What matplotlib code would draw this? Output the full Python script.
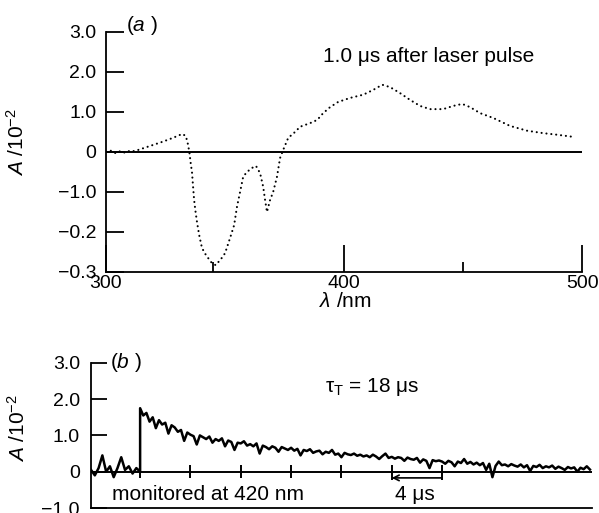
import matplotlib
matplotlib.use("Agg")
import matplotlib.pyplot as plt
import numpy as np

plt.rcParams['font.family'] = ['Liberation Sans', 'DejaVu Sans']
plt.rcParams['mathtext.fontset'] = 'custom'
plt.rcParams['mathtext.rm'] = 'Liberation Sans'
plt.rcParams['mathtext.it'] = 'Liberation Sans:italic'
plt.rcParams['mathtext.default'] = 'regular'

# ---------------- data: panel (a) transient spectrum ----------------
wavelength_nm = [300, 302, 304, 306, 308, 310, 312, 316, 320, 324, 328, 332,
                 333.5, 334.3, 335.0, 335.6, 336.1, 336.6, 337.0, 337.5, 338.2,
                 339.1, 340.3, 342.0, 344.5, 346.1, 348.6, 350.0, 352.1, 353.8,
                 355.0, 356.3, 357.6, 359.2, 361.3, 363.0, 364.7, 366.0, 366.8,
                 367.6, 368.9, 370.2, 371.8, 373.1, 374.4, 376.5, 379.4, 381.5,
                 385.7, 388.7, 391.2, 394.1, 397.5, 402.5, 408.0, 412.2, 416.0,
                 419.3, 423.5, 427.7, 431.9, 436.1, 441.6, 445.8, 449.6, 452.9,
                 457.1, 462.6, 469.7, 476.9, 483.6, 489.5, 497.1]
absorbance_a = [0.0, 0.03, -0.03, 0.02, -0.02, 0.03, 0.02, 0.10, 0.18, 0.26, 0.35, 0.45,
                0.40, 0.22, 0.0, -0.30, -0.50, -0.90, -1.20, -1.45, -1.75,
                -2.07, -2.40, -2.58, -2.78, -2.83, -2.65, -2.53, -2.15, -1.83,
                -1.37, -1.00, -0.62, -0.50, -0.40, -0.35, -0.53, -0.87, -1.20,
                -1.50, -1.20, -1.00, -0.62, -0.15, 0.05, 0.35, 0.50, 0.63,
                0.72, 0.80, 0.97, 1.12, 1.25, 1.35, 1.43, 1.55, 1.68,
                1.62, 1.47, 1.30, 1.15, 1.07, 1.07, 1.15, 1.20, 1.12,
                0.97, 0.85, 0.65, 0.53, 0.47, 0.43, 0.37]
yticks_a = [3, 2, 1, 0, -1, -2, -3]
yticklabels_a = ["3.0", "2.0", "1.0", "0", "\u22121.0", "\u22120.2", "\u22120.3"]
xticks_a = [300, 400, 500]
xminor_a = [345, 450]

# ---------------- data: panel (b) decay trace ----------------
pre_start, pre_step = -3.9, 0.3
pre_values = [0.05, -0.10, 0.10, 0.45, 0.00, 0.15, -0.15, 0.10, 0.40, 0.05,
              0.15, -0.05, 0.10, 0.00]
post_start, post_step = 0.0, 0.25
post_values = [
    1.75, 1.55, 1.62, 1.38, 1.50, 1.20, 1.42, 1.30, 1.35, 1.05, 1.28, 1.22,
    1.10, 1.15, 0.85, 1.08, 1.02, 0.98, 0.75, 1.00, 0.95, 0.90, 0.97, 0.80,
    0.90, 0.85, 0.92, 0.70, 0.86, 0.82, 0.60, 0.80, 0.78, 0.84, 0.72, 0.76,
    0.70, 0.78, 0.50, 0.72, 0.68, 0.62, 0.70, 0.66, 0.55, 0.68, 0.64, 0.60,
    0.66, 0.58, 0.63, 0.45, 0.60, 0.57, 0.62, 0.52, 0.56, 0.58, 0.48, 0.55,
    0.52, 0.60, 0.47, 0.50, 0.40, 0.52, 0.48, 0.46, 0.50, 0.44, 0.47, 0.42,
    0.45, 0.40, 0.47, 0.42, 0.35, 0.43, 0.50, 0.38, 0.41, 0.36, 0.40, 0.38,
    0.30, 0.39, 0.35, 0.33, 0.38, 0.25, 0.34, 0.30, 0.10, 0.32, 0.29, 0.31,
    0.28, 0.22, 0.30, 0.26, 0.15, 0.28, 0.24, 0.35, 0.22, 0.27, 0.20, 0.25,
    0.18, 0.24, 0.05, 0.22, -0.15, 0.16, 0.28, 0.18, 0.20, 0.15, 0.21, 0.17,
    0.14, 0.20, 0.12, 0.18, 0.02, 0.16, 0.13, 0.19, 0.10, 0.15, 0.12, 0.17,
    0.08, 0.14, 0.10, 0.05, 0.13, 0.09, 0.12, 0.00, 0.11, 0.07, 0.15, 0.06]
yticks_b = [3, 2, 1, 0, -1]
yticklabels_b = ["3.0", "2.0", "1.0", "0", "\u22121.0"]
time_ticks_us = [0, 4, 8, 12, 16]
bracket_us = [20, 24]

pre_t = pre_start + pre_step * np.arange(len(pre_values))
post_t = post_start + post_step * np.arange(len(post_values))
t_all = np.concatenate([pre_t, post_t])
v_all = np.concatenate([pre_values, post_values])

# ---------------- figure ----------------
fig = plt.figure(figsize=(5.99, 5.13), dpi=100)
axa = fig.add_axes([0.177, 0.4698, 0.795, 0.468])
axb = fig.add_axes([0.152, 0.0097, 0.836, 0.283])

FS = 15
TFS = 14
for ax in (axa, axb):
    ax.spines['top'].set_visible(False)
    ax.spines['right'].set_visible(False)
    for s in ('left', 'bottom'):
        ax.spines[s].set_linewidth(1.3)

# panel (a)
axa.plot(wavelength_nm, absorbance_a, color='k', lw=1.5,
         linestyle=(0, (0.05, 2.3)), dash_capstyle='round')
axa.axhline(0, color='k', lw=1.4)
axa.set_xlim(300, 500)
axa.set_ylim(-3, 3)
axa.set_yticks(yticks_a)
axa.set_yticklabels(yticklabels_a)
axa.set_xticks(xticks_a)
axa.set_xticks(xminor_a, minor=True)
axa.tick_params(axis='y', direction='in', length=13, width=1.3, pad=7, labelsize=TFS)
axa.tick_params(axis='x', which='major', direction='in', length=19.5, width=1.3,
                pad=2.5, labelsize=TFS)
axa.tick_params(axis='x', which='minor', direction='in', length=7.5, width=1.3)
axa.set_ylabel(r"$\it{A}$ /10$^{-2}$", fontsize=FS)
axa.yaxis.set_label_coords(-0.165, 0.54)
axa.set_xlabel(r"$\mathit{λ}$ /nm", fontsize=FS)
axa.xaxis.set_label_coords(0.502, -0.082)
axa.text(0.042, 1.025, r"($\it{a}$ )", transform=axa.transAxes, fontsize=FS,
         ha='left', va='center')
axa.text(391.2, 2.375, "1.0 \u03bcs after laser pulse", fontsize=FS,
         ha='left', va='center')

# panel (b)
axb.plot(t_all, v_all, color='k', lw=1.8)
axb.axhline(0, color='k', lw=1.4)
axb.vlines(time_ticks_us, -0.18, 0.18, color='k', lw=1.4)
axb.vlines(bracket_us, -0.22, 0.19, color='k', lw=1.4)
axb.annotate("", xy=(bracket_us[0], -0.17), xytext=(bracket_us[1], -0.17),
             arrowprops=dict(arrowstyle='->', color='k', lw=1.2,
                             mutation_scale=10, shrinkA=0, shrinkB=0))
axb.set_xlim(-3.9, 35.9)
axb.set_ylim(-1, 3)
axb.set_xticks([])
axb.set_yticks(yticks_b)
axb.set_yticklabels(yticklabels_b)
axb.tick_params(axis='y', direction='in', length=11.5, width=1.3, pad=8, labelsize=TFS)
axb.set_ylabel(r"$\it{A}$ /10$^{-2}$", fontsize=FS)
axb.yaxis.set_label_coords(-0.125, 0.55)
axb.text(0.038, 1.0, r"($\it{b}$ )", transform=axb.transAxes, fontsize=FS,
         ha='left', va='center')
axb.text(14.7, 2.33, r"τ$_{T}$ = 18 μs", fontsize=FS, ha='left', va='center')
axb.text(-2.2, -0.64, "monitored at 420 nm", fontsize=FS, ha='left', va='center')
axb.text(21.8, -0.64, "4 μs", fontsize=FS, ha='center', va='center')

fig.savefig("out.png", dpi=100)
